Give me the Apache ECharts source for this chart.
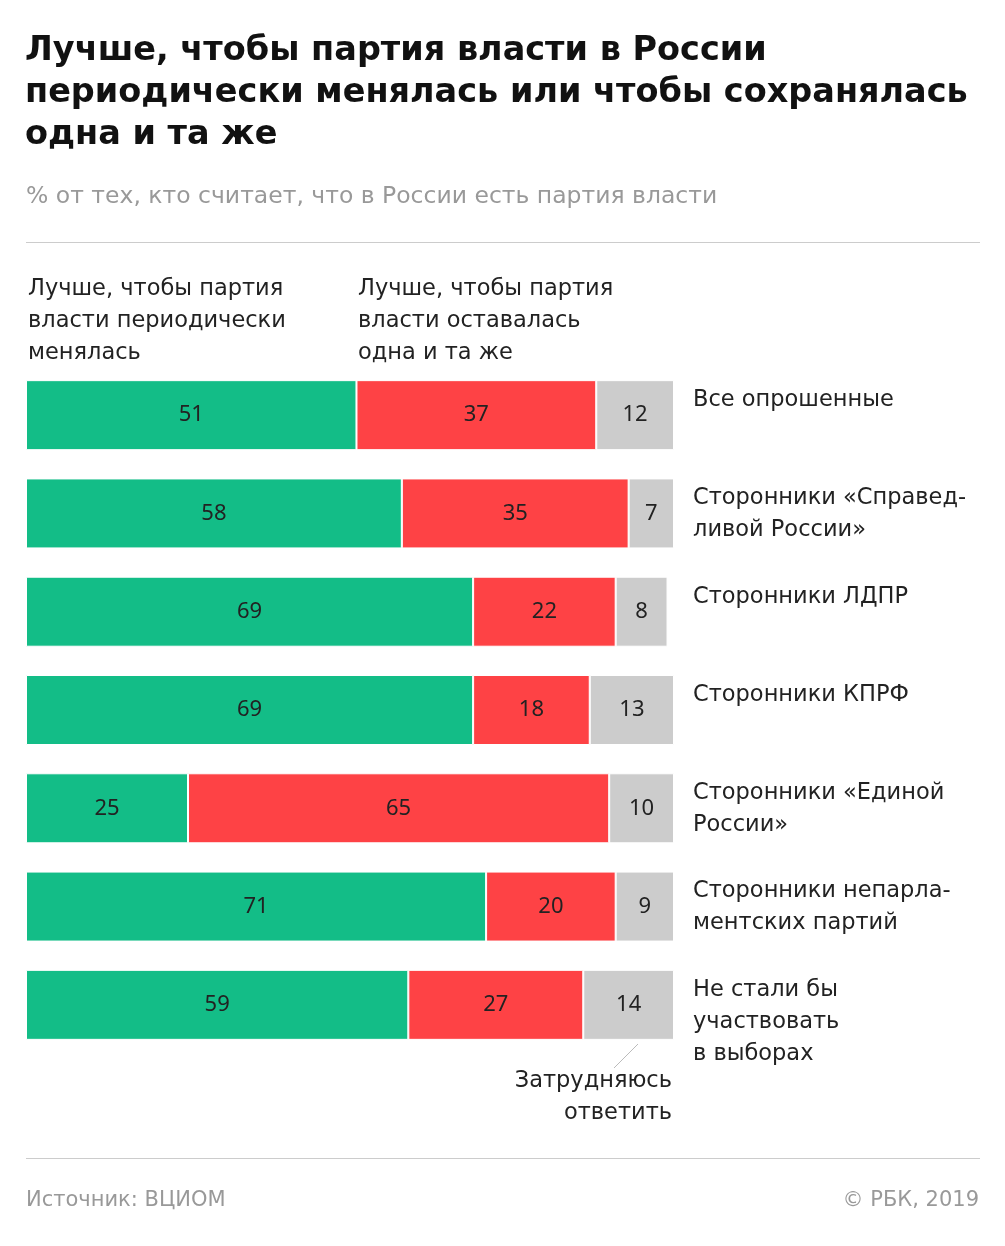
<!DOCTYPE html>
<html lang="ru">
<head>
<meta charset="UTF-8">
<title>Партия власти</title>
<script src="https://cdn.jsdelivr.net/npm/echarts@6/dist/echarts.min.js"></script>
<style>body{margin:0;background:#fff}</style>
</head>
<body>
<div id="main" style="width:1005px;height:1246px;"></div>
<script>
var categories = ['Все опрошенные', 'Сторонники «Справед-\nливой России»', 'Сторонники ЛДПР', 'Сторонники КПРФ',
    'Сторонники «Единой\nРоссии»', 'Сторонники непарла-\nментских партий', 'Не стали бы\nучаствовать\nв выборах'];
var change = [51, 58, 69, 69, 25, 71, 59];
var keep = [37, 35, 22, 18, 65, 20, 27];
var unsure = [12, 7, 8, 13, 10, 9, 14];

var font = '"DejaVu Sans", "Noto Sans", sans-serif';
var myChart = echarts.init(document.getElementById('main'));

function ser(name, data, color) {
    return {
        name: name, type: 'bar', stack: 'all', data: data, barWidth: 70,
        itemStyle: {color: color, borderColor: '#fff', borderWidth: 1},
        label: {show: true, position: 'inside', color: '#222', fontSize: 22, fontFamily: '"Noto Sans", sans-serif', padding: [8, 0, 0, 0]},
        animation: false
    };
}

var option = {
    animation: false,
    grid: {left: 26, width: 648, top: 366, height: 688},
    xAxis: {type: 'value', min: 0, max: 100, show: false},
    yAxis: {type: 'category', data: categories, inverse: true, show: false},
    series: [ser('change', change, '#13bd87'), ser('keep', keep, '#fe4245'), ser('unsure', unsure, '#cccccc')],
    graphic: []
};
myChart.setOption(option);

var g = [
    {type: 'text', left: 25, top: 30, style: {text: 'Лучше, чтобы партия власти в России\nпериодически менялась или чтобы сохранялась\nодна и та же', font: 'bold 33.5px "DejaVu Sans", sans-serif', fill: '#111', lineHeight: 42}},
    {type: 'text', left: 26, top: 185, style: {text: '% от тех, кто считает, что в России есть партия власти', font: '23.5px ' + font, fill: '#999'}},
    {type: 'rect', shape: {x: 26, y: 242, width: 954, height: 1}, style: {fill: '#ccc'}},
    {type: 'text', left: 28, top: 273, style: {text: 'Лучше, чтобы партия\nвласти периодически\nменялась', font: '22.5px ' + font, fill: '#222', lineHeight: 32}},
    {type: 'text', left: 358, top: 273, style: {text: 'Лучше, чтобы партия\nвласти оставалась\nодна и та же', font: '22.5px ' + font, fill: '#222', lineHeight: 32}},
    {type: 'line', shape: {x1: 638, y1: 1044, x2: 614, y2: 1068}, style: {stroke: '#bbb', lineWidth: 1}},
    {type: 'text', style: {x: 672, y: 1065, text: 'Затрудняюсь\nответить', font: '22.5px ' + font, fill: '#222', lineHeight: 32, align: 'right'}},
    {type: 'rect', shape: {x: 26, y: 1158, width: 954, height: 1}, style: {fill: '#ccc'}},
    {type: 'text', left: 26, top: 1190, style: {text: 'Источник: ВЦИОМ', font: '21px ' + font, fill: '#999'}},
    {type: 'text', right: 26, top: 1190, style: {text: '© РБК, 2019', font: '21px ' + font, fill: '#999'}}
];
categories.forEach(function (c, i) {
    var y = myChart.convertToPixel({yAxisIndex: 0}, i);
    g.push({type: 'text', left: 693, top: y - 31, style: {text: c, font: '22.5px ' + font, fill: '#222', lineHeight: 32}});
});
myChart.setOption({graphic: g});
</script>
</body>
</html>
